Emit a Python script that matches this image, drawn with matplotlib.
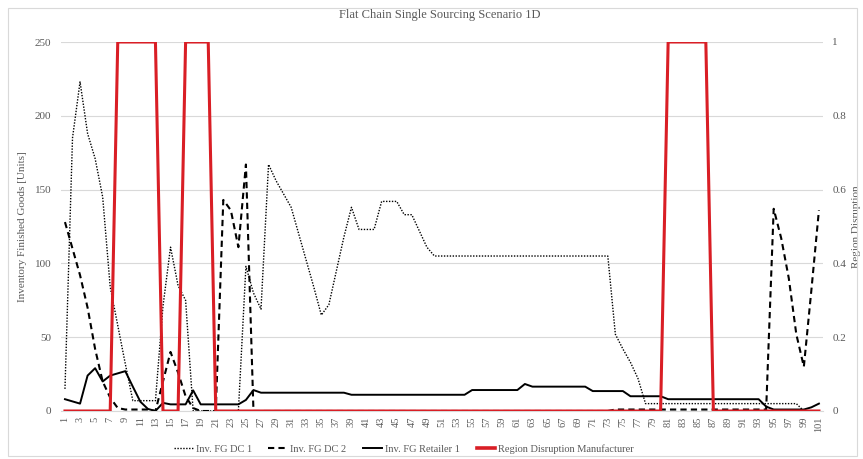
import matplotlib
matplotlib.use("Agg")
import matplotlib.pyplot as plt
from matplotlib.patches import Rectangle
from matplotlib.lines import Line2D

plt.rcParams['font.family'] = ['Liberation Serif', 'DejaVu Serif']

periods = list(range(1, 102))

inv_dc1 = [
    15, 185, 223, 188, 171, 145, 84, 58, 32, 7,
    7, 7, 7, 71, 111, 85, 75, 0, 0, 0,
    0, 0, 0, 0, 98, 80, 69, 167, 156, 147,
    138, 120, 102, 84, 65, 72, 95, 118, 138, 123,
    123, 123, 142, 142, 142, 133, 133, 122, 111, 105,
    105, 105, 105, 105, 105, 105, 105, 105, 105, 105,
    105, 105, 105, 105, 105, 105, 105, 105, 105, 105,
    105, 105, 105, 52, 42, 33, 22, 5, 5, 5,
    5, 5, 5, 5, 5, 5, 5, 5, 5, 5,
    5, 5, 5, 5, 5, 5, 5, 5, 0, 0,
    0,
]

inv_dc2 = [
    128, 110, 92, 70, 42, 20, 9, 2, 1, 1,
    1, 1, 0, 20, 40, 26, 10, 2, 0, 0,
    0, 143, 136, 111, 167, 0, 0, 0, 0, 0,
    0, 0, 0, 0, 0, 0, 0, 0, 0, 0,
    0, 0, 0, 0, 0, 0, 0, 0, 0, 0,
    0, 0, 0, 0, 0, 0, 0, 0, 0, 0,
    0, 0, 0, 0, 0, 0, 0, 0, 0, 0,
    0, 0, 0, 1, 1, 1, 1, 1, 1, 1,
    1, 1, 1, 1, 1, 1, 1, 1, 1, 1,
    1, 1, 1, 1, 137, 117, 90, 52, 30, 82,
    136,
]

inv_retailer1 = [
    8, 6.5, 5, 24, 29, 20, 24, 25.5, 27, 16.5,
    6.3, 1.4, 0, 5.5, 4.5, 4.5, 4.5, 14, 4.5, 4.5,
    4.5, 4.5, 4.5, 4.5, 7.5, 14.2, 12.4, 12.4, 12.4, 12.4,
    12.4, 12.4, 12.4, 12.4, 12.4, 12.4, 12.4, 12.4, 11, 11,
    11, 11, 11, 11, 11, 11, 11, 11, 11, 11,
    11, 11, 11, 11, 14.2, 14.2, 14.2, 14.2, 14.2, 14.2,
    14.2, 18.3, 16.5, 16.5, 16.5, 16.5, 16.5, 16.5, 16.5, 16.5,
    13.5, 13.5, 13.5, 13.5, 13.5, 10, 10, 10, 10, 10,
    8, 8, 8, 8, 8, 8, 8, 8, 8, 8,
    8, 8, 8, 3, 1, 1, 1, 1, 1, 2.5,
    5,
]

disruption_manufacturer = [
    0, 0, 0, 0, 0, 0, 0, 1, 1, 1,
    1, 1, 1, 0, 0, 0, 1, 1, 1, 1,
    0, 0, 0, 0, 0, 0, 0, 0, 0, 0,
    0, 0, 0, 0, 0, 0, 0, 0, 0, 0,
    0, 0, 0, 0, 0, 0, 0, 0, 0, 0,
    0, 0, 0, 0, 0, 0, 0, 0, 0, 0,
    0, 0, 0, 0, 0, 0, 0, 0, 0, 0,
    0, 0, 0, 0, 0, 0, 0, 0, 0, 0,
    1, 1, 1, 1, 1, 1, 0, 0, 0, 0,
    0, 0, 0, 0, 0, 0, 0, 0, 0, 0,
    0,
]

left_ticks = [0, 50, 100, 150, 200, 250]
right_ticks = [0, 0.2, 0.4, 0.6, 0.8, 1]
right_tick_labels = ["0", "0.2", "0.4", "0.6", "0.8", "1"]

TXT = '#595959'
GRID = '#D9D9D9'
RED = '#D91E25'

W, H = 863, 459
fig = plt.figure(figsize=(W / 100, H / 100), dpi=100)
fig.patch.set_facecolor('white')

# outer chart border
fig.patches.append(Rectangle((8 / W, 3 / H), (857 - 8) / W, (451 - 3) / H,
                             transform=fig.transFigure, fill=False,
                             edgecolor=GRID, linewidth=0.8))

ax = fig.add_axes([61.2 / W, (H - 411) / H, (822.7 - 61.2) / W, 369 / H])
ax2 = ax.twinx()

ax.plot(periods, inv_dc1, color='black', lw=1.0, linestyle=(0, (1, 1.1)),
        label='Inv. FG DC 1', zorder=3)
ax.plot(periods, inv_dc2, color='black', lw=1.5, linestyle=(0, (3, 2)),
        label='Inv. FG DC 2', zorder=3)
ax.plot(periods, inv_retailer1, color='black', lw=1.4,
        label='Inv. FG Retailer 1', zorder=3)
ax2.plot(periods, disruption_manufacturer, color=RED, lw=2.2,
         solid_joinstyle='miter', label='Region Disruption Manufacturer')

ax.set_xlim(0.5, 101.5)
ax.set_ylim(0, 250)
ax2.set_ylim(0, 1)

ax.set_yticks(left_ticks)
ax.set_yticklabels([str(t) for t in left_ticks])
ax2.set_yticks(right_ticks)
ax2.set_yticklabels(right_tick_labels)

odd = periods[::2]
ax.set_xticks(odd)
ax.set_xticklabels([str(p) for p in odd], rotation=90)

ax.grid(axis='y', color=GRID, lw=0.8)
ax.set_axisbelow(True)

for a in (ax, ax2):
    for s in a.spines.values():
        s.set_visible(False)
ax.spines['bottom'].set_visible(True)
ax.spines['bottom'].set_color(GRID)

ax.tick_params(axis='y', length=0, colors=TXT, labelsize=8, pad=7)
ax.tick_params(axis='x', length=0, colors=TXT, labelsize=7.5, pad=4)
ax2.tick_params(axis='y', length=0, colors=TXT, labelsize=8, pad=7)

ax.set_ylabel('Inventory Finished Goods [Units]', color=TXT, fontsize=8)
ax.yaxis.set_label_coords((27 - 61.2) / (822.7 - 61.2), 0.5)
ax2.set_ylabel('Region Disruption', color=TXT, fontsize=8)
ax2.yaxis.set_label_coords((852 - 61.2) / (822.7 - 61.2), 0.5)

fig.text(440 / W, 1 - 15 / H, 'Flat Chain Single Sourcing Scenario 1D',
         ha='center', va='center', color=TXT, fontsize=9)

handles = [
    Line2D([], [], color='black', lw=1.0, linestyle=(0, (1, 1.1))),
    Line2D([], [], color='black', lw=1.5, linestyle=(0, (3, 2))),
    Line2D([], [], color='black', lw=1.4),
    Line2D([], [], color=RED, lw=2.6),
]
labels = ['Inv. FG DC 1', 'Inv. FG DC 2', 'Inv. FG Retailer 1',
          'Region Disruption Manufacturer']
leg = fig.legend(handles, labels, loc='center', ncol=4,
                 bbox_to_anchor=(404 / W, 10 / H), frameon=False,
                 fontsize=7.5, handlelength=1.8, handletextpad=0.3,
                 columnspacing=1.6)
for t in leg.get_texts():
    t.set_color(TXT)

fig.savefig('out.png', dpi=100, facecolor='white')
